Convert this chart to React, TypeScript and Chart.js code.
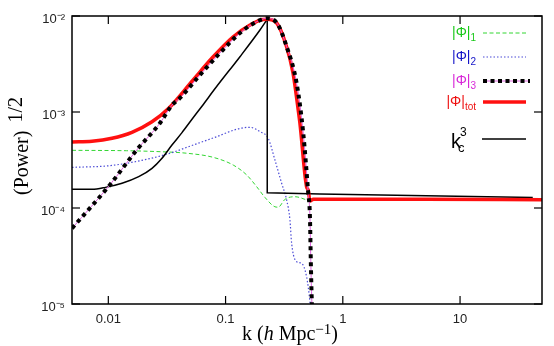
import React, { useEffect, useRef } from 'react';
import { Chart, registerables } from 'chart.js';

Chart.register(...registerables);

// ---- axis ticks ----
const xTicks = [0.01, 0.1, 1, 10];
const xTickLabels = ['0.01', '0.1', '1', '10'];
const yTicks = [1e-5, 1e-4, 1e-3, 1e-2];
const yTickLabels = ['10⁻⁵', '10⁻⁴', '10⁻³', '10⁻²'];

// ---- series: |Phi|_1 ----
const k1 = [0.0049, 0.01435, 0.0276, 0.0466, 0.0785, 0.1163, 0.1514, 0.184, 0.2167, 0.2637, 0.281, 0.3209, 0.3905, 0.4753, 0.5244, 0.58, 5, 50];
const phi1 = [3.99e-4, 3.95e-4, 3.86e-4, 3.72e-4, 3.37e-4, 2.8e-4, 2.21e-4, 1.67e-4, 1.29e-4, 1.03e-4, 1.02e-4, 1.23e-4, 1.31e-4, 1.23e-4, 1.16e-4, 1.22e-4, 1.22e-4, 1.22e-4];

// ---- series: |Phi|_2 ----
const k2 = [0.0049, 0.0103, 0.01988, 0.0336, 0.053, 0.0839, 0.1244, 0.1615, 0.1965, 0.2312, 0.2637, 0.3008, 0.332, 0.354, 0.366, 0.4036, 0.4455, 0.491, 0.5244, 0.54];
const phi2 = [2.65e-4, 2.76e-4, 3.16e-4, 3.72e-4, 4.53e-4, 5.53e-4, 6.61e-4, 6.93e-4, 6.24e-4, 5.32e-4, 3.16e-4, 1.81e-4, 1.21e-4, 7.5e-5, 4.28e-5, 2.76e-5, 2.65e-5, 1.92e-5, 1.06e-5, 7e-6];

// ---- series: |Phi|_3 ----
const k3 = [0.0049, 0.0103, 0.01746, 0.0276, 0.0349, 0.04087, 0.0605, 0.0896, 0.1327, 0.184, 0.224, 0.2729, 0.332, 0.4036, 0.4596, 0.507, 0.5244, 0.5346, 0.545, 0.56];
const phi3 = [6.14e-5, 1.74e-4, 4.02e-4, 7.67e-4, 1.18e-3, 1.4e-3, 2.43e-3, 4.12e-3, 6.65e-3, 8.72e-3, 9.46e-3, 8.51e-3, 4.79e-3, 2.0e-3, 6.04e-4, 1.43e-4, 8.1e-5, 2.45e-5, 1.0e-5, 5e-6];

// ---- series: |Phi|_tot ----
const kTot = [0.0049, 0.00726, 0.01075, 0.0159, 0.02358, 0.03273, 0.0527, 0.0781, 0.1156, 0.1615, 0.2086, 0.2254, 0.2729, 0.332, 0.376, 0.4166, 0.4306, 0.491, 0.507, 0.5244, 0.56, 1, 5, 50];
const phiTot = [4.87e-4, 4.95e-4, 5.32e-4, 6.14e-4, 7.9e-4, 1.094e-3, 2.15e-3, 3.74e-3, 6.04e-3, 8.06e-3, 9.2e-3, 9.24e-3, 8.45e-3, 4.76e-3, 2.55e-3, 1.05e-3, 7.67e-4, 1.66e-4, 1.54e-4, 1.18e-4, 1.23e-4, 1.23e-4, 1.23e-4, 1.22e-4];

// ---- series: k_c^3 (smooth rise up to the peak, then a sharp step down) ----
const kKc = [0.0049, 0.00726, 0.00943, 0.01309, 0.01816, 0.02358, 0.0287, 0.0349, 0.04249, 0.05171, 0.0629, 0.0839, 0.1327, 0.1965, 0.2267, 0.2267, 0.638, 41.7];
const kc3 = [1.566e-4, 1.566e-4, 1.64e-4, 1.81e-4, 2.12e-4, 2.59e-4, 3.3e-4, 4.53e-4, 6.1e-4, 8.4e-4, 1.15e-3, 1.84e-3, 3.77e-3, 7.15e-3, 9.24e-3, 1.443e-4, 1.40e-4, 1.287e-4];
const kcPeakIndex = 14;

const pts = (xs: number[], ys: number[]) => xs.map((x, i) => ({ x, y: ys[i] }));

const SANS = '"Liberation Sans", Arial, sans-serif';
const SERIF = '"Liberation Serif", "Times New Roman", serif';

type LegendItem = { main: string; sub: string; color: string; y: number; kind: string };
const legendItems: LegendItem[] = [
  { main: '|Φ|', sub: '1', color: '#18c818', y: 33, kind: 'phi1' },
  { main: '|Φ|', sub: '2', color: '#1414c8', y: 57, kind: 'phi2' },
  { main: '|Φ|', sub: '3', color: '#d828d8', y: 81, kind: 'phi3' },
  { main: '|Φ|', sub: 'tot', color: '#ee1010', y: 102, kind: 'tot' },
];

const decorPlugin = {
  id: 'decor',
  afterDatasetsDraw(chart: any) {
    const { ctx, chartArea: a, scales } = chart;
    ctx.save();
    ctx.strokeStyle = '#000';
    ctx.lineWidth = 1.5;
    ctx.setLineDash([]);
    ctx.strokeRect(a.left, a.top, a.right - a.left, a.bottom - a.top);
    ctx.lineWidth = 1.2;
    const tl = 8;
    const seg = (x1: number, y1: number, x2: number, y2: number) => {
      ctx.beginPath();
      ctx.moveTo(x1, y1);
      ctx.lineTo(x2, y2);
      ctx.stroke();
    };
    for (const v of xTicks) {
      const x = scales.x.getPixelForValue(v);
      seg(x, a.bottom, x, a.bottom - tl);
      seg(x, a.top, x, a.top + tl);
    }
    for (const v of yTicks) {
      const y = scales.y.getPixelForValue(v);
      seg(a.left, y, a.left + tl, y);
      seg(a.right, y, a.right - tl, y);
    }
    ctx.restore();
  },
  afterDraw(chart: any) {
    const { ctx } = chart;
    ctx.save();
    ctx.fillStyle = '#000';
    ctx.textBaseline = 'alphabetic';

    // y title
    ctx.save();
    ctx.translate(28, 146);
    ctx.rotate(-Math.PI / 2);
    ctx.font = `20px ${SERIF}`;
    const p1 = '(Power)';
    const p2 = '1/2';
    const w1 = ctx.measureText(p1).width;
    const w2 = ctx.measureText(p2).width;
    const gap = 8;
    const x0 = -(w1 + gap + w2) / 2;
    ctx.fillText(p1, x0, 0);
    ctx.fillText(p2, x0 + w1 + gap, -6);
    ctx.restore();

    // x title
    const parts = [
      { t: 'k (', f: `20px ${SERIF}`, dy: 0 },
      { t: 'h', f: `italic 20px ${SERIF}`, dy: 0 },
      { t: ' Mpc', f: `20px ${SERIF}`, dy: 0 },
      { t: '−1', f: `15px ${SERIF}`, dy: -6 },
      { t: ')', f: `20px ${SERIF}`, dy: 0 },
    ];
    let total = 0;
    const widths = parts.map((p) => {
      ctx.font = p.f;
      const w = ctx.measureText(p.t).width;
      total += w;
      return w;
    });
    let xx = 290 - total / 2;
    parts.forEach((p, i) => {
      ctx.font = p.f;
      ctx.fillText(p.t, xx, 340 + p.dy);
      xx += widths[i];
    });

    // legend
    const right = 476;
    const lx1 = 483;
    const lx2 = 526;
    const line = (y: number, color: string, width: number, dash: number[], x2 = lx2, x1 = lx1) => {
      ctx.save();
      ctx.strokeStyle = color;
      ctx.lineWidth = width;
      ctx.setLineDash(dash);
      ctx.lineCap = 'butt';
      ctx.beginPath();
      ctx.moveTo(x1, y);
      ctx.lineTo(x2, y);
      ctx.stroke();
      ctx.restore();
    };
    for (const it of legendItems) {
      ctx.font = `14px ${SANS}`;
      const wm = ctx.measureText(it.main).width;
      ctx.font = `10px ${SANS}`;
      const ws = ctx.measureText(it.sub).width;
      const sx = right - wm - ws;
      ctx.fillStyle = it.color;
      ctx.textBaseline = 'middle';
      ctx.font = `14px ${SANS}`;
      ctx.fillText(it.main, sx, it.y);
      ctx.font = `10px ${SANS}`;
      ctx.fillText(it.sub, sx + wm, it.y + 5);
      if (it.kind === 'phi1') line(it.y, '#33d633', 1, [4, 2.5]);
      if (it.kind === 'phi2') line(it.y, '#4b4bd6', 1.2, [1.5, 2]);
      if (it.kind === 'phi3') {
        line(it.y, '#e066e0', 1, [], 530);
        line(it.y, '#000', 4, [4, 3.5], 530);
      }
      if (it.kind === 'tot') line(it.y, '#ff1010', 3.5, []);
    }
    // k_c^3
    ctx.fillStyle = '#000';
    ctx.textBaseline = 'alphabetic';
    ctx.font = `20px ${SANS}`;
    const kx = 451;
    const wk = ctx.measureText('k').width;
    ctx.fillText('k', kx, 148);
    ctx.font = `12px ${SANS}`;
    ctx.fillText('3', kx + wk - 1, 136);
    ctx.font = `13px ${SANS}`;
    ctx.fillText('c', kx + wk - 3, 152);
    line(139, '#000', 1.5, [], 526, 482);
    ctx.restore();
  },
};

export default function App() {
  const ref = useRef<HTMLCanvasElement | null>(null);
  useEffect(() => {
    document.body.style.margin = '0';
    if (!ref.current) return;
    const common = { showLine: true, pointRadius: 0, pointHoverRadius: 0, fill: false };
    const smooth = { cubicInterpolationMode: 'monotone' };
    const kcRise = pts(kKc.slice(0, kcPeakIndex + 1), kc3.slice(0, kcPeakIndex + 1));
    const kcStep = pts(kKc.slice(kcPeakIndex), kc3.slice(kcPeakIndex));
    const chart = new Chart(ref.current, {
      type: 'scatter',
      data: {
        datasets: [
          { ...common, ...smooth, label: '|Φ|3', data: pts(k3, phi3), borderColor: '#000', borderWidth: 4, borderDash: [4, 4], borderCapStyle: 'butt' },
          { ...common, ...smooth, label: '|Φ|3 line', data: pts(k3, phi3), borderColor: '#e066e0', borderWidth: 1 },
          { ...common, ...smooth, label: '|Φ|tot', data: pts(kTot, phiTot), borderColor: '#ff1010', borderWidth: 3.5 },
          { ...common, ...smooth, label: 'kc3', data: kcRise, borderColor: '#000', borderWidth: 1.5 },
          { ...common, label: 'kc3 step', data: kcStep, borderColor: '#000', borderWidth: 1.5, tension: 0 },
          { ...common, ...smooth, label: '|Φ|2', data: pts(k2, phi2), borderColor: '#4b4bd6', borderWidth: 1.2, borderDash: [1.5, 2] },
          { ...common, ...smooth, label: '|Φ|1', data: pts(k1, phi1), borderColor: '#33d633', borderWidth: 1, borderDash: [4, 2.5] },
        ] as any,
      },
      options: {
        animation: false,
        responsive: false,
        devicePixelRatio: 1,
        events: [],
        layout: { padding: { top: 16, right: 12, left: 0, bottom: 0 } },
        plugins: { legend: { display: false }, tooltip: { enabled: false } },
        scales: {
          x: {
            type: 'logarithmic',
            min: 0.0049,
            max: 50,
            grid: { display: false, drawTicks: false },
            border: { display: false },
            afterBuildTicks: (s: any) => { s.ticks = xTicks.map((v) => ({ value: v })); },
            afterFit: (s: any) => { s.height = 42; },
            ticks: {
              autoSkip: false,
              maxRotation: 0,
              padding: 8,
              color: '#222',
              font: { family: SANS, size: 13 },
              callback: (v: any) => {
                const i = xTicks.findIndex((t) => Math.abs(Math.log10(t) - Math.log10(Number(v))) < 1e-6);
                return i >= 0 ? xTickLabels[i] : '';
              },
            },
          },
          y: {
            type: 'logarithmic',
            min: 1e-5,
            max: 1e-2,
            grid: { display: false, drawTicks: false },
            border: { display: false },
            afterBuildTicks: (s: any) => { s.ticks = yTicks.map((v) => ({ value: v })); },
            afterFit: (s: any) => { s.width = 72; },
            ticks: {
              autoSkip: false,
              padding: 7,
              labelOffset: 3,
              color: '#222',
              font: { family: SANS, size: 13 },
              callback: (v: any) => {
                const i = yTicks.findIndex((t) => Math.abs(Math.log10(t) - Math.log10(Number(v))) < 1e-6);
                return i >= 0 ? yTickLabels[i] : '';
              },
            },
          },
        },
      } as any,
      plugins: [decorPlugin],
    });
    return () => chart.destroy();
  }, []);
  return (
    <div style={{ width: 554, height: 346, background: '#fff' }}>
      <canvas ref={ref} width={554} height={346} style={{ display: 'block' }} />
    </div>
  );
}
